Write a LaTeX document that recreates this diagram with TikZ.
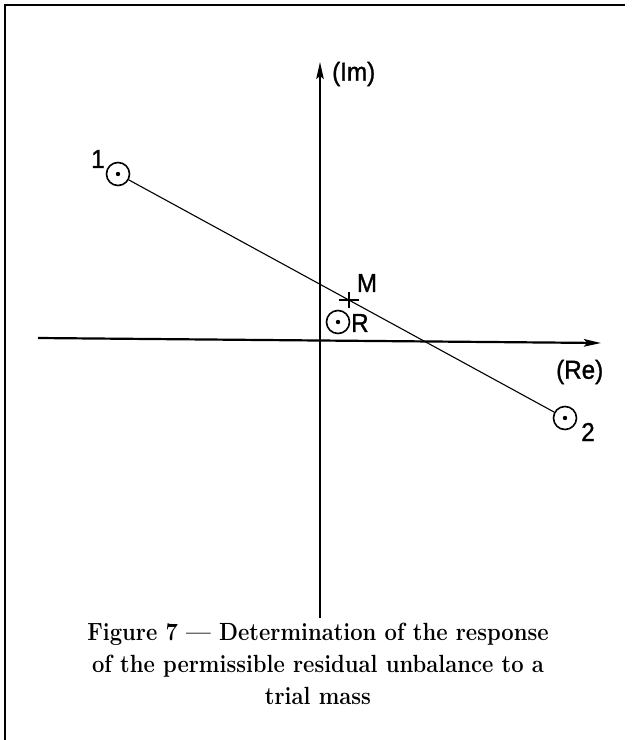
\documentclass[tikz,border=0pt]{standalone}
\usepackage{fontspec}
\setsansfont{Liberation Sans}[FakeStretch=0.93,FakeBold=1.2]
\usetikzlibrary{arrows.meta}
\tikzset{
  frameline/.style={line width=2.4pt},
  axis/.style={line width=1.8pt,-{Stealth[length=17pt,width=7.5pt,inset=3pt]}},
  conn/.style={line width=1.1pt},
  odot/.style={circle,draw,line width=1.6pt,minimum size=23pt,inner sep=0pt},
  lbl/.style={font=\sffamily\fontsize{26}{26}\selectfont,inner sep=0pt},
  captext/.style={inner sep=0pt}
}
\begin{document}
\begin{tikzpicture}[x=1pt,y=-1pt]
\useasboundingbox (0,0) rectangle (635,740);
% frame
\coordinate (fbl) at (5,740);
\coordinate (ftl) at (5,5);
\coordinate (ftr) at (625,5);
\draw[frameline] (fbl) -- (ftl) -- (ftr);
% axes
\coordinate (ims) at (320,618);
\coordinate (ime) at (320,62);
\coordinate (res) at (38,338);
\coordinate (ree) at (601,343);
\draw[axis,line width=1.6pt] (ims) -- (ime);
\draw[axis,line width=2.2pt] (res) -- (ree);
\node[lbl,anchor=west] (imlbl) at (332,74) {(Im)};
\node[lbl,anchor=west] (relbl) at (556,372) {(Re)};
% points
\node[odot] (c1) at (118,174) {};
\node[odot] (c2) at (565,418) {};
\node[odot] (cR) at (338,322) {};
\fill (c1.center) circle (2.2);
\fill (c2.center) circle (2.2);
\fill (cR.center) circle (2.2);
\node[lbl] (l1) at (98,159) {1};
\node[lbl] (l2) at (588,432) {2};
\node[lbl,anchor=west] (lR) at (351,323) {R};
\draw[conn] (c1) -- (c2);
% M cross
\coordinate (M) at (349,300);
\draw[line width=1.6pt] ([xshift=-10pt]M) -- ([xshift=10pt]M);
\draw[line width=1.6pt] ([yshift=-8pt]M) -- ([yshift=8pt]M);
\node[lbl] (lM) at (367,283) {M};
% caption
\node[captext] (caption) at (318,666) {\bfseries\fontsize{22}{28.2}\selectfont\scalebox{1}[1.13]{\begin{tabular}{@{}c@{}}Figure 7 --- Determination of the response\\of the permissible residual unbalance to a\\trial mass\end{tabular}}};
\end{tikzpicture}
\end{document}
